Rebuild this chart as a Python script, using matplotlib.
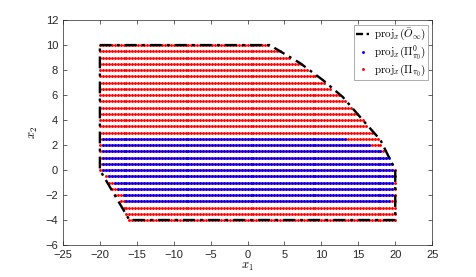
import matplotlib
matplotlib.use("Agg")
import matplotlib.pyplot as plt
import numpy as np

# outer set proj_x(O_inf): polygon vertices
outer_x = [-20, 3, 7.1, 10.2, 12.9, 15.6, 18.0, 20, 20, -16, -20, -20]
outer_y = [10, 10, 8.56, 7.2, 5.84, 4.0, 2.4, 0, -4, -4, 0, 10]

# right / left boundary of the outer set as functions of x2
right_y = [-4, 0, 2.4, 4.0, 5.84, 7.2, 8.56, 10]
right_x = [20, 20, 18.0, 15.6, 12.9, 10.2, 7.1, 3]
left_y = [-4, 0, 10]
left_x = [-16, -20, -20]

# inner set Pi^0 (blue) boundaries, read per row
blue_rows = [-2.5, 2.5]
blue_right_y = [-2.5, -2.0, 0.5, 1.0, 1.5, 2.0, 2.5]
blue_right_x = [19.2, 19.6, 19.6, 19.2, 18.0, 16.5, 13.5]
blue_left_y = [-2.5, -2.0, -1.5, -1.0, -0.5, 0.0, 2.5]
blue_left_x = [-16.6, -17.0, -17.8, -18.2, -18.8, -19.6, -19.6]

# sampling grid
grid_x = np.linspace(-20, 20, 101)
grid_y = np.linspace(-4, 10, 29)

gx, gy = np.meshgrid(grid_x, grid_y)
gx = gx.ravel()
gy = gy.ravel()
eps = 1e-6

xmax = np.interp(gy, right_y, right_x)
xmin = np.interp(gy, left_y, left_x)
red = (gx >= xmin - eps) & (gx <= xmax + eps)

bxmax = np.interp(gy, blue_right_y, blue_right_x)
bxmin = np.interp(gy, blue_left_y, blue_left_x)
blue = (gy >= blue_rows[0] - eps) & (gy <= blue_rows[1] + eps) & \
       (gx >= bxmin - eps) & (gx <= bxmax + eps)

plt.rcParams["font.family"] = ["Liberation Sans", "DejaVu Sans"]
plt.rcParams["mathtext.fontset"] = "cm"

fig = plt.figure(figsize=(4.77, 2.77), dpi=100)
ax = fig.add_axes([0.132, 0.1155, 0.774, 0.812])

dash = (0, (5, 2.2, 1.2, 2.2))
ax.plot(gx[red], gy[red], "o", color="#ff0000", ms=2.1, mew=0, zorder=2)
ax.plot(gx[blue], gy[blue], "o", color="#0000ff", ms=2.1, mew=0, zorder=3)
ax.plot(outer_x, outer_y, color="black", lw=1.7, ls=dash, zorder=4)

h_line, = ax.plot([], [], color="black", lw=1.7, ls=(0, (3, 1.5, 1, 1.5)))
h_blue, = ax.plot([], [], "o", color="#0000ff", ms=2.1, mew=0)
h_red, = ax.plot([], [], "o", color="#ff0000", ms=2.1, mew=0)
leg = ax.legend([h_line, h_blue, h_red],
                [r"$\mathrm{proj}_x(\bar{O}_\infty)$",
                 r"$\mathrm{proj}_x(\Pi^0_{\pi_0})$",
                 r"$\mathrm{proj}_x(\Pi_{\pi_0})$"],
                loc="upper right", fontsize=8, handlelength=1.2,
                handletextpad=0.4, borderpad=0.2, labelspacing=0.05,
                borderaxespad=0.0, fancybox=False, framealpha=1,
                edgecolor="#a0a0a0", bbox_to_anchor=(0.99, 0.98))
leg.get_frame().set_linewidth(0.6)

ax.set_xlim(-25, 25)
ax.set_ylim(-6, 12)
ax.set_xticks(np.arange(-25, 26, 5))
ax.set_yticks(np.arange(-6, 13, 2))
ax.tick_params(direction="in", length=3, width=0.5, labelsize=8,
               colors="#262626", top=True, right=True)
for s in ax.spines.values():
    s.set_linewidth(0.5)
    s.set_color("#262626")

ax.set_xlabel(r"$x_1$", fontsize=9, labelpad=1)
ax.set_ylabel(r"$x_2$", fontsize=9, labelpad=4)

fig.savefig("out.png", dpi=100)
